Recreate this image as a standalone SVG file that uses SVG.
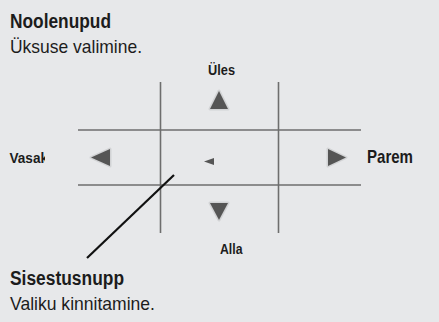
<svg xmlns="http://www.w3.org/2000/svg" width="439" height="322" viewBox="0 0 439 322">
<style>
text{font-family:"Liberation Sans",Arial,sans-serif;fill:#1c1c1c}
.b{font-weight:bold}
.grid{stroke:#6e6e6e;stroke-width:1.6;fill:none}
.tri{fill:#555;stroke:#d2d3d5;stroke-width:3;stroke-linejoin:round;paint-order:stroke}
.lead{stroke:#111;stroke-width:2.2;fill:none}
</style>
<defs>
<clipPath id="vclip"><rect x="0" y="140" width="45" height="30"/></clipPath>
</defs>
<rect width="439" height="322" fill="#e7e8ea"/>
<g id="title">
<text class="b" x="10" y="28" font-size="19.5" textLength="101" lengthAdjust="spacingAndGlyphs">Noolenupud</text>
<text x="10" y="53" font-size="19" textLength="132" lengthAdjust="spacingAndGlyphs">Üksuse valimine.</text>
</g>
<g id="grid">
<line class="grid" x1="160.5" y1="82" x2="160.5" y2="233"/>
<line class="grid" x1="278.5" y1="82" x2="278.5" y2="233"/>
<line class="grid" x1="78" y1="130" x2="361" y2="130"/>
<line class="grid" x1="78" y1="185" x2="361" y2="185"/>
</g>
<g id="up">
<polygon class="tri" points="219,91 210,109 228,109"/>
<text class="b" x="208" y="75" font-size="15" textLength="27" lengthAdjust="spacingAndGlyphs">Üles</text>
</g>
<g id="down">
<polygon class="tri" points="210,203 228,203 219,220"/>
<text class="b" x="220" y="254" font-size="15.5" textLength="22.5" lengthAdjust="spacingAndGlyphs">Alla</text>
</g>
<g id="left">
<polygon class="tri" points="91,157.5 110,149 110,166"/>
<g clip-path="url(#vclip)">
<text class="b" x="9.5" y="163" font-size="15.5" textLength="38.5" lengthAdjust="spacingAndGlyphs">Vasak</text>
</g>
</g>
<g id="right">
<polygon class="tri" points="328,149 328,166 346,157.5"/>
<text class="b" x="367" y="163" font-size="19" textLength="46" lengthAdjust="spacingAndGlyphs">Parem</text>
</g>
<g id="center">
<polygon fill="#555" points="204,161.5 214,158 214,165"/>
</g>
<g id="connectors">
<line class="lead" x1="174" y1="175" x2="87" y2="258"/>
</g>
<g id="enter">
<text class="b" x="10" y="285" font-size="19.5" textLength="114" lengthAdjust="spacingAndGlyphs">Sisestusnupp</text>
<text x="10" y="310" font-size="19" textLength="145" lengthAdjust="spacingAndGlyphs">Valiku kinnitamine.</text>
</g>
</svg>
